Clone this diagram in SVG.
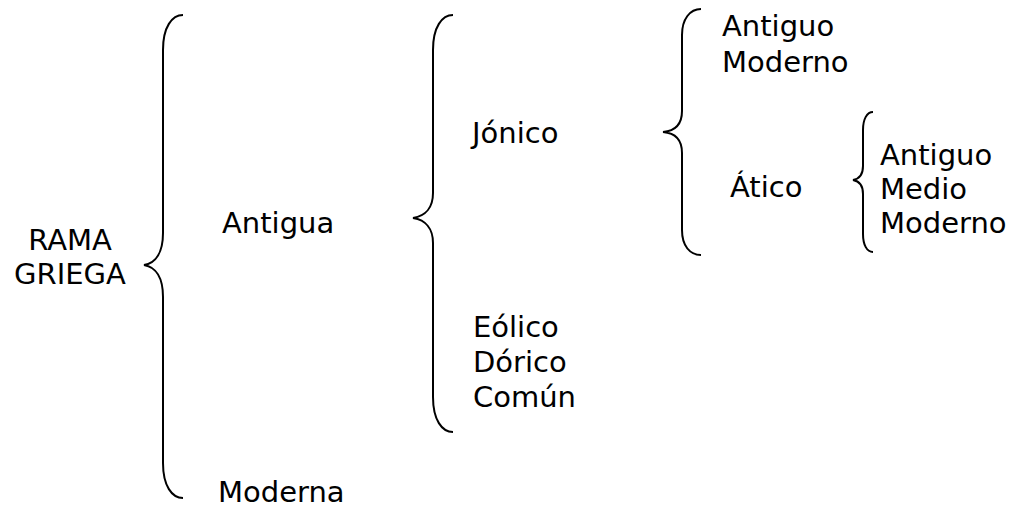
<svg xmlns="http://www.w3.org/2000/svg" width="1014" height="508" viewBox="0 0 1014 508">
<style>
text{font-family:"DejaVu Sans","Verdana",sans-serif;font-size:29px;fill:#000}
.brace{fill:none;stroke:#000;stroke-width:2}
</style>
<rect width="1014" height="508" fill="#fff"/>
<g id="connectors">
<path class="brace" d="M183,15 C172,15 163,27 163,50 L163,233 C163,252 156,263 144,265 C156,267 163,278 163,297 L163,463 C163,486 172,498 183,498"/>
<path class="brace" d="M453,15 C442,15 433,27 433,50 L433,193 C433,207 426,216 413,218 C426,220 433,229 433,243 L433,397 C433,420 442,432 453,432"/>
<path class="brace" d="M701,9 C690,9 682,19 682,35 L682,111 C682,124 675,131 663,132 C675,133 682,140 682,153 L682,230 C682,246 690,255 701,255"/>
<path class="brace" d="M873,112 C867,112 863,119 863,130 L863,166 C863,175 859,179 853,180 C859,181 863,185 863,194 L863,234 C863,245 867,252 873,252"/>
</g>
<g id="rama-griega"><text x="70" y="250" text-anchor="middle">RAMA</text><text x="70" y="284" text-anchor="middle">GRIEGA</text></g>
<g id="antigua"><text x="222" y="233">Antigua</text></g>
<g id="moderna"><text x="218" y="502">Moderna</text></g>
<g id="jonico"><text x="472" y="143">Jónico</text></g>
<g id="eolico-dorico-comun"><text x="473" y="337">Eólico</text><text x="473" y="372">Dórico</text><text x="473" y="407">Común</text></g>
<g id="antiguo-moderno"><text x="722" y="36">Antiguo</text><text x="722" y="72">Moderno</text></g>
<g id="atico"><text x="730" y="197">Ático</text></g>
<g id="antiguo-medio-moderno"><text x="880" y="165">Antiguo</text><text x="880" y="199">Medio</text><text x="880" y="233">Moderno</text></g>
</svg>
